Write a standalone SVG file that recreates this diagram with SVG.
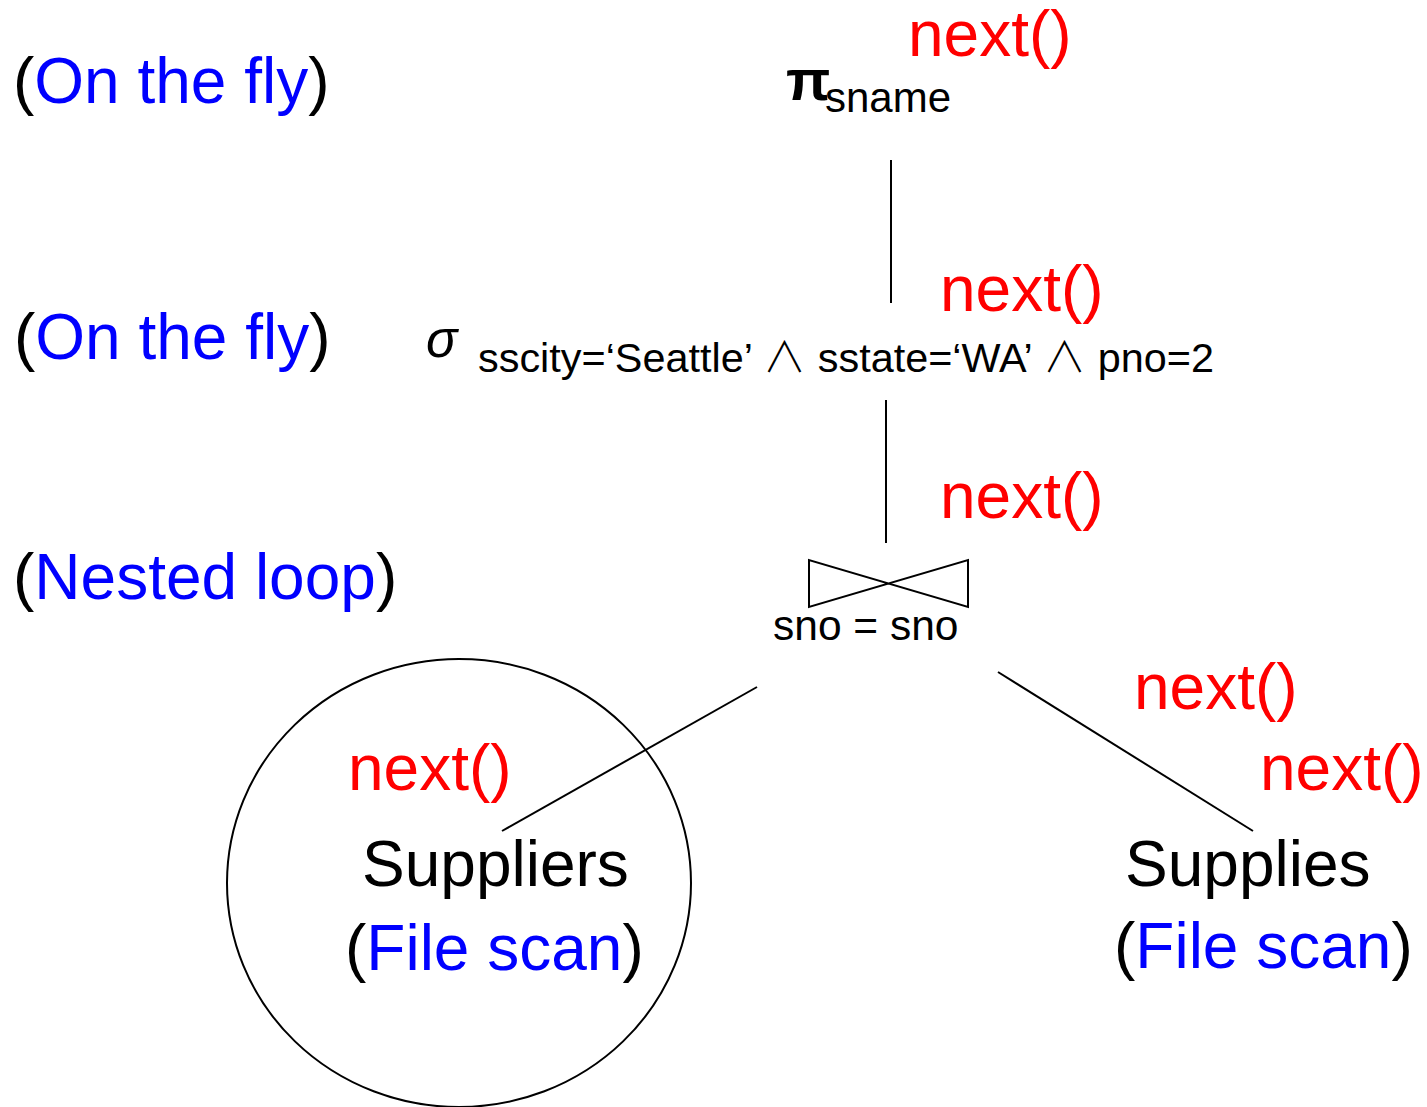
<svg xmlns="http://www.w3.org/2000/svg" width="1427" height="1107" viewBox="0 0 1427 1107">
  <style>
    text { font-family: "Liberation Sans", Arial, sans-serif; }
    .big { font-size: 64px; fill: #000; }
    .blue { fill: #0000ff; }
    .call { font-size: 64px; fill: #ff0000; }
    .cond { font-size: 40px; fill: #000; }
    .wedge { font-family: "Noto Sans CJK SC", "DejaVu Sans", sans-serif; font-weight: 300; font-size: 42px; }
    .edge { stroke: #000; stroke-width: 2; fill: none; }
  </style>
  <rect width="1427" height="1107" fill="#fff"/>

  <!-- strategy labels on the left -->
  <g id="strategy-project">
    <text class="big" x="13" y="103">(<tspan class="blue">On the fly</tspan>)</text>
  </g>
  <g id="strategy-select">
    <text class="big" x="14" y="359">(<tspan class="blue">On the fly</tspan>)</text>
  </g>
  <g id="strategy-join">
    <text class="big" x="13" y="599">(<tspan class="blue">Nested loop</tspan>)</text>
  </g>

  <!-- operator tree -->
  <g id="project">
    <text x="786" y="100" font-family="'Liberation Serif', serif" font-weight="bold" font-size="58" fill="#000">π</text>
    <text x="825" y="112" font-size="42" fill="#000">sname</text>
  </g>
  <g id="select">
    <text x="426" y="357" font-family="'Liberation Serif', serif" font-style="italic" font-size="52" fill="#000">σ</text>
    <text class="cond" x="478" y="372" textLength="736" lengthAdjust="spacingAndGlyphs">sscity=‘Seattle’ <tspan class="wedge">∧</tspan> sstate=‘WA’ <tspan class="wedge">∧</tspan> pno=2</text>
  </g>
  <g id="join">
    <path class="edge" d="M809,560 L809,607 L968,560 L968,607 Z"/>
    <text x="773" y="640" font-size="42.5" fill="#000">sno = sno</text>
  </g>
  <g id="suppliers">
    <ellipse class="edge" cx="459" cy="883" rx="232" ry="224"/>
    <text class="big" x="362" y="886">Suppliers</text>
    <text class="big" x="345" y="970">(<tspan class="blue">File scan</tspan>)</text>
  </g>
  <g id="supplies">
    <text class="big" x="1125" y="886">Supplies</text>
    <text class="big" x="1114" y="968">(<tspan class="blue">File scan</tspan>)</text>
  </g>

  <!-- iterator calls -->
  <g id="calls">
    <text class="call" x="908" y="56">next()</text>
    <text class="call" x="940" y="311">next()</text>
    <text class="call" x="940" y="518">next()</text>
    <text class="call" x="1134" y="709">next()</text>
    <text class="call" x="1260" y="790">next()</text>
    <text class="call" x="348" y="790">next()</text>
  </g>

  <!-- tree edges -->
  <g id="connectors">
    <line class="edge" x1="891" y1="160" x2="891" y2="303"/>
    <line class="edge" x1="886" y1="400" x2="886" y2="543"/>
    <line class="edge" x1="757" y1="687" x2="502" y2="831"/>
    <line class="edge" x1="998" y1="672" x2="1253" y2="831"/>
  </g>
</svg>
